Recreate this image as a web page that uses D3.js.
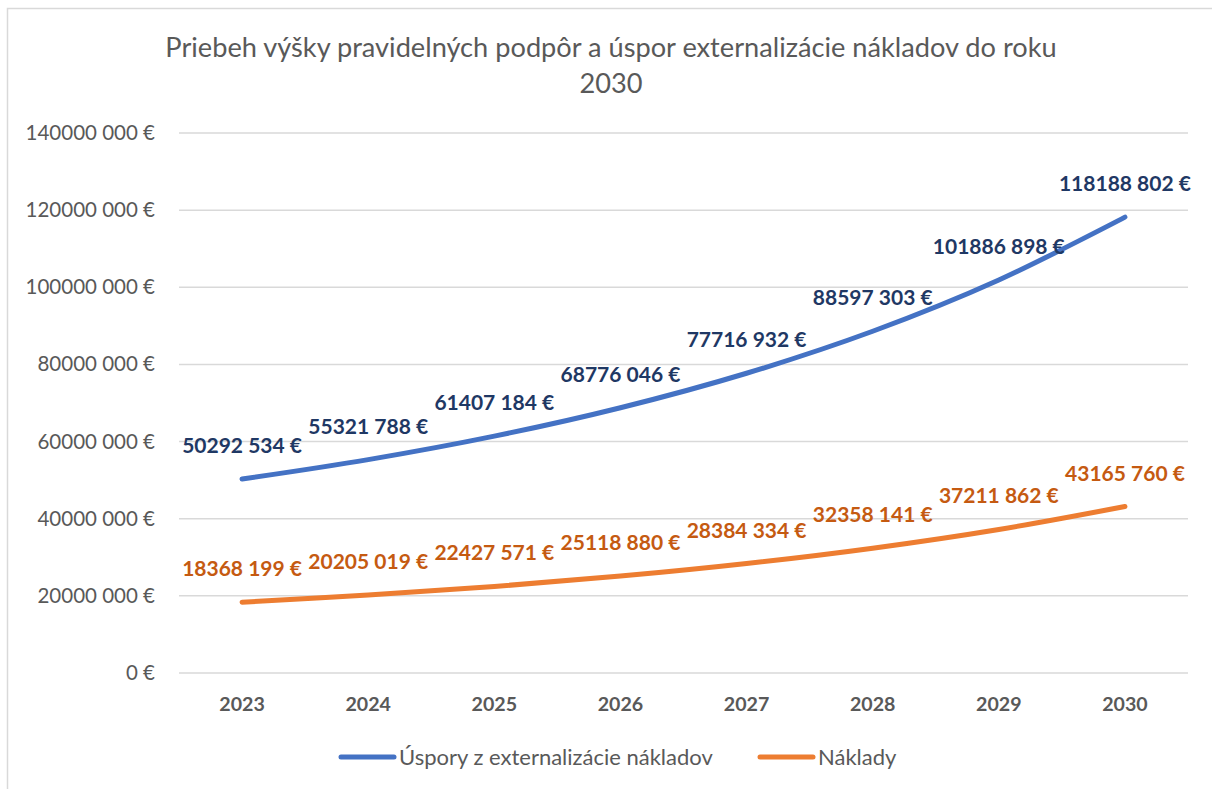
<!DOCTYPE html>
<html>
<head>
<meta charset="utf-8">
<script src="https://cdn.jsdelivr.net/npm/d3@7"></script>
<style>
  body { margin: 0; background: #fff; }
  svg { display: block; font-family: Lato, "Open Sans", sans-serif; }
</style>
</head>
<body>
<svg id="chart"></svg>
<script>
const years = ['2023', '2024', '2025', '2026', '2027', '2028', '2029', '2030'];
const uspory = [50292534, 55321788, 61407184, 68776046, 77716932, 88597303, 101886898, 118188802];
const naklady = [18368199, 20205019, 22427571, 25118880, 28384334, 32358141, 37211862, 43165760];
const yTicks = [0, 20000000, 40000000, 60000000, 80000000, 100000000, 120000000, 140000000];
const seriesNames = ['Úspory z externalizácie nákladov', 'Náklady'];

const W = 1212, H = 789;
const margin = { top: 133, right: 24, bottom: 116, left: 179 };
const innerW = W - margin.left - margin.right;
const innerH = H - margin.top - margin.bottom;

// 50292534 -> "50292 534 €" (Excel style, space only before last 3 digits)
const fmtEur = v => {
  const s = String(Math.round(v));
  if (s.length <= 3) return s + ' €';
  return s.slice(0, -3) + ' ' + s.slice(-3) + ' €';
};

const svg = d3.select('#chart').attr('width', W).attr('height', H);

svg.append('rect')
  .attr('x', 7.5).attr('y', 8.5)
  .attr('width', W + 20).attr('height', H + 20)
  .attr('fill', 'none').attr('stroke', '#d9d9d9').attr('stroke-width', 1.5);

svg.append('text')
  .attr('x', 611).attr('y', 57)
  .attr('text-anchor', 'middle')
  .attr('fill', '#595959')
  .style('font-size', '27.2px')
  .selectAll('tspan')
  .data(['Priebeh výšky pravidelných podpôr a úspor externalizácie nákladov do roku', '2030'])
  .join('tspan')
  .attr('x', 611)
  .attr('dy', (d, i) => i ? 36 : 0)
  .text(d => d);

const chart = svg.append('g')
  .attr('transform', `translate(${margin.left},${margin.top})`);

const x = d3.scaleBand().domain(years).range([0, innerW]);
const y = d3.scaleLinear().domain([0, 140000000]).range([innerH, 0]);

// grid
chart.append('g')
  .selectAll('line')
  .data(yTicks)
  .join('line')
  .attr('x1', 0).attr('x2', innerW)
  .attr('y1', d => y(d)).attr('y2', d => y(d))
  .attr('stroke', '#d9d9d9').attr('stroke-width', 1.5);

const yAxisG = chart.append('g')
  .call(d3.axisLeft(y).tickValues(yTicks).tickFormat(fmtEur).tickSize(0).tickPadding(24));
yAxisG.select('.domain').remove();
yAxisG.selectAll('text')
  .attr('fill', '#595959')
  .style('font-size', '20.5px')
  .style('font-family', 'Lato, sans-serif');

const xAxisG = chart.append('g')
  .attr('transform', `translate(0,${innerH})`)
  .call(d3.axisBottom(x).tickSize(0).tickPadding(24));
xAxisG.select('.domain').remove();
xAxisG.selectAll('text')
  .attr('fill', '#595959')
  .style('font-size', '19.6px')
  .style('font-weight', 'bold')
  .style('font-family', 'Lato, sans-serif');

const series = [
  { name: seriesNames[0], values: uspory, line: '#4472c4', label: '#1f3864' },
  { name: seriesNames[1], values: naklady, line: '#ed7d31', label: '#c55a11' }
];

const line = d3.line()
  .x((d, i) => x(years[i]) + x.bandwidth() / 2)
  .y(d => y(d))
  .curve(d3.curveCatmullRom.alpha(0.5));

series.forEach(s => {
  chart.append('path')
    .datum(s.values)
    .attr('d', line)
    .attr('fill', 'none')
    .attr('stroke', s.line)
    .attr('stroke-width', 5)
    .attr('stroke-linecap', 'round')
    .attr('stroke-linejoin', 'round');
});

series.forEach(s => {
  chart.append('g')
    .selectAll('text')
    .data(s.values)
    .join('text')
    .attr('x', (d, i) => x(years[i]) + x.bandwidth() / 2)
    .attr('y', d => y(d) - 26)
    .attr('text-anchor', 'middle')
    .attr('fill', s.label)
    .style('font-size', '21px')
    .style('font-weight', 'bold')
    .text(d => fmtEur(d));
});

// legend
const legend = svg.append('g');
const legendPos = [339, 758];
series.forEach((s, i) => {
  const g = legend.append('g').attr('transform', `translate(${legendPos[i]},757)`);
  g.append('line')
    .attr('x1', 2).attr('x2', 55)
    .attr('stroke', s.line).attr('stroke-width', 5).attr('stroke-linecap', 'round');
  g.append('text')
    .attr('x', 60).attr('y', 7.5)
    .attr('fill', '#595959')
    .style('font-size', '22px')
    .text(s.name);
});
</script>
</body>
</html>
